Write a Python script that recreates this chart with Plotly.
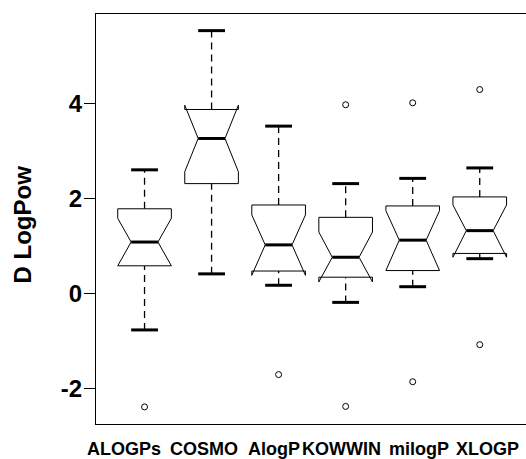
import plotly.graph_objects as go

# ---- data ----
categories = ["ALOGPs", "COSMO", "AlogP", "KOWWIN", "milogP", "XLOGP"]
whisker_low = [-0.76, 0.42, 0.18, -0.18, 0.15, 0.74]
q1 = [0.59, 2.32, 0.48, 0.35, 0.49, 0.85]
median = [1.09, 3.27, 1.03, 0.77, 1.13, 1.33]
q3 = [1.79, 3.88, 1.87, 1.61, 1.85, 2.04]
whisker_high = [2.61, 5.54, 3.53, 2.32, 2.43, 2.65]
notch_low = [0.59, 2.57, 0.39, 0.25, 0.49, 0.77]
notch_high = [1.59, 3.97, 1.66, 1.30, 1.75, 1.87]
outliers = [[-2.38], [], [-1.70], [3.98, -2.37], [4.02, -1.85], [4.30, -1.07]]
y_ticks = [-2, 0, 2, 4]

# ---- styling ----
BOX_HW = 0.4      # half box width (x units)
NOTCH_FRAC = 0.5
STAPLE_HW = 0.2
FONT = "Liberation Sans, Arial, sans-serif"
label_shift = [-21, -8, -5, -4, 6, 8]  # px offset of category labels
X_RANGE = [0.276, 6.69]
Y_RANGE = [-2.74, 5.89]
WIDTH, HEIGHT = 526, 459
MARGIN = dict(l=96, r=0, t=14, b=35)
XTICK_LEN = 9  # px

xs = list(range(1, len(categories) + 1))

box_x, box_y = [], []
med_x, med_y = [], []
stp_x, stp_y = [], []
wh_x, wh_y = [], []
out_x, out_y = [], []
for i, x in enumerate(xs):
    w = BOX_HW
    px = [x - w, x + w, x + w, x + w * NOTCH_FRAC, x + w, x + w,
          x - w, x - w, x - w * NOTCH_FRAC, x - w, x - w]
    py = [q1[i], q1[i], notch_low[i], median[i], notch_high[i], q3[i],
          q3[i], notch_high[i], median[i], notch_low[i], q1[i]]
    box_x += px + [None]
    box_y += py + [None]
    med_x += [x - w * NOTCH_FRAC, x + w * NOTCH_FRAC, None]
    med_y += [median[i], median[i], None]
    stp_x += [x - STAPLE_HW, x + STAPLE_HW, None, x - STAPLE_HW, x + STAPLE_HW, None]
    stp_y += [whisker_low[i], whisker_low[i], None, whisker_high[i], whisker_high[i], None]
    wh_x += [x, x, None, x, x, None]
    wh_y += [whisker_low[i], q1[i], None, q3[i], whisker_high[i], None]
    for o in outliers[i]:
        out_x.append(x)
        out_y.append(o)

# x tick marks: vertical line markers centred half a tick below the axis line
plot_h = HEIGHT - MARGIN["t"] - MARGIN["b"]
px_per_unit = plot_h / (Y_RANGE[1] - Y_RANGE[0])
tick_y = Y_RANGE[0] - (XTICK_LEN / 2) / px_per_unit

fig = go.Figure()
fig.add_trace(go.Scatter(x=wh_x, y=wh_y, mode="lines",
                         line=dict(color="black", width=1.3, dash="7px,5px"),
                         hoverinfo="skip"))
fig.add_trace(go.Scatter(x=box_x, y=box_y, mode="lines", fill="toself",
                         fillcolor="white",
                         line=dict(color="black", width=1), hoverinfo="skip"))
fig.add_trace(go.Scatter(x=med_x, y=med_y, mode="lines",
                         line=dict(color="black", width=3), hoverinfo="skip"))
fig.add_trace(go.Scatter(x=stp_x, y=stp_y, mode="lines",
                         line=dict(color="black", width=3), hoverinfo="skip"))
fig.add_trace(go.Scatter(x=out_x, y=out_y, mode="markers",
                         marker=dict(symbol="circle-open", size=6,
                                     color="black", line=dict(width=1)),
                         hoverinfo="skip"))
fig.add_trace(go.Scatter(x=xs, y=[tick_y] * len(xs), mode="markers",
                         cliponaxis=False,
                         marker=dict(symbol="line-ns", size=XTICK_LEN,
                                     color="black",
                                     line=dict(width=1, color="black")),
                         hoverinfo="skip"))

annotations = []
for i, x in enumerate(xs):
    annotations.append(dict(x=x, y=0, xref="x", yref="paper", yanchor="top",
                            xanchor="center", text=categories[i], showarrow=False,
                            xshift=label_shift[i], yshift=-13,
                            font=dict(family=FONT, size=18, color="black",
                                      weight="bold")))
annotations.append(dict(x=0, y=1.46, xref="paper", yref="y", text="D LogPow",
                        textangle=-90, showarrow=False, xanchor="center",
                        yanchor="middle", xshift=-74,
                        font=dict(family=FONT, size=24,
                                  color="black", weight="bold")))

fig.update_layout(
    width=WIDTH, height=HEIGHT,
    margin=MARGIN,
    paper_bgcolor="white", plot_bgcolor="white",
    showlegend=False,
    annotations=annotations,
    xaxis=dict(range=X_RANGE, tickmode="array", tickvals=xs,
               showticklabels=False,
               showgrid=False, zeroline=False, showline=True, mirror=True,
               linecolor="black", linewidth=1, ticks="", fixedrange=True),
    yaxis=dict(range=Y_RANGE, tickvals=y_ticks,
               ticktext=[str(v) for v in y_ticks],
               showgrid=False, zeroline=False, showline=True, mirror=False,
               linecolor="black", linewidth=1, ticks="outside", ticklen=11,
               tickcolor="black", tickwidth=1, ticklabelstandoff=-3,
               tickfont=dict(family=FONT, size=24,
                             color="black", weight="bold"),
               fixedrange=True),
)

fig.write_html("out.html", config={"displayModeBar": False},
               post_script="document.body.style.margin='0';"
                           "document.body.style.overflow='hidden';")
